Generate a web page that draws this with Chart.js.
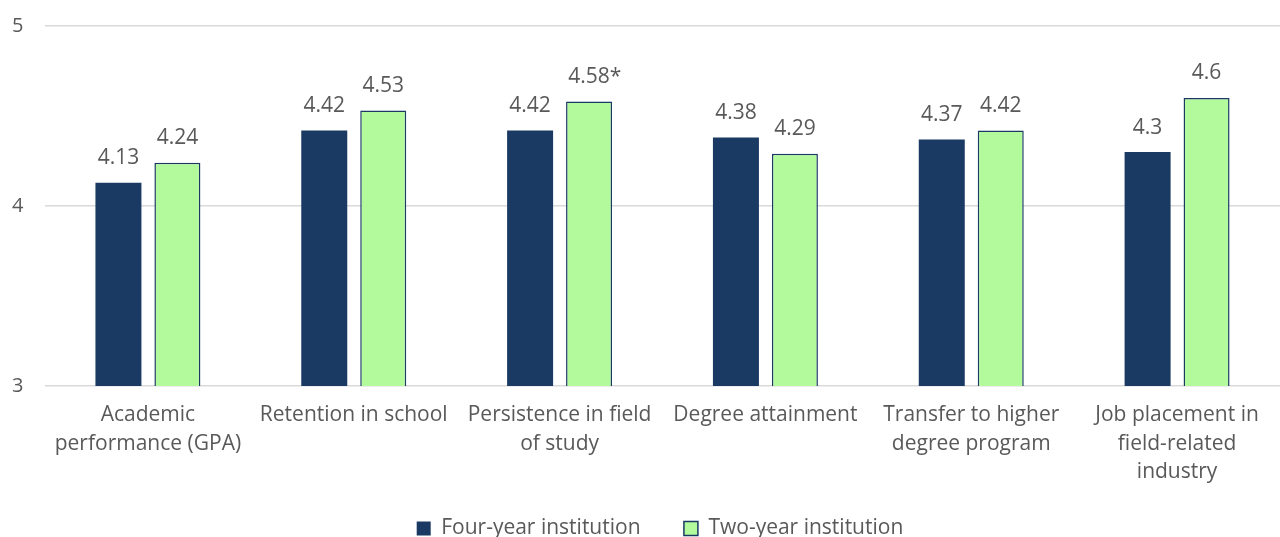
<!DOCTYPE html>
<html>
<head>
<meta charset="utf-8">
<script src="https://cdn.jsdelivr.net/npm/chart.js@4.4.0/dist/chart.umd.min.js"></script>
<style>
  html, body { margin: 0; padding: 0; background: #fff; overflow: hidden; }
  #wrap { width: 1280px; height: 549px; position: relative; }
</style>
</head>
<body>
<div id="wrap"><canvas id="myChart"></canvas></div>
<script>
const categories = [
  ['Academic', 'performance (GPA)'],
  'Retention in school',
  ['Persistence in field', 'of study'],
  'Degree attainment',
  ['Transfer to higher', 'degree program'],
  ['Job placement in', 'field-related', 'industry']
];
const fourYear = [4.13, 4.42, 4.42, 4.38, 4.37, 4.3];
const twoYear = [4.24, 4.53, 4.58, 4.29, 4.42, 4.6];
const twoYearNotes = ['', '', '*', '', '', ''];
const yTicks = [3, 4, 5];

const navy = '#1a3a63';
const green = '#b3fa9d';
const textColor = '#595959';

// draws the value above each bar
const valueLabels = {
  id: 'valueLabels',
  afterDatasetsDraw(chart) {
    const ctx = chart.ctx;
    ctx.save();
    ctx.font = '21px "Open Sans"';
    ctx.fillStyle = textColor;
    ctx.textBaseline = 'bottom';
    chart.data.datasets.forEach(function(ds, i) {
      chart.getDatasetMeta(i).data.forEach(function(bar, j) {
        let num = String(ds.data[j]);
        let note = ds.notes ? ds.notes[j] : '';
        let w = ctx.measureText(num).width;
        ctx.textAlign = 'left';
        ctx.fillText(num + note, bar.x - w / 2, bar.y - 14);
      });
    });
    ctx.restore();
  }
};

// nudge the legend a little right, like the original
const legendShift = {
  id: 'legendShift',
  afterLayout(chart) {
    if (chart.legend) chart.legend.left += 28;
  }
};

Chart.defaults.font.family = '"Open Sans"';
Chart.defaults.color = textColor;

new Chart(document.getElementById('myChart').getContext('2d'), {
  type: 'bar',
  data: {
    labels: categories,
    datasets: [{
      label: 'Four-year institution',
      data: fourYear,
      backgroundColor: navy,
      borderColor: navy,
      borderWidth: 0
    }, {
      label: 'Two-year institution',
      data: twoYear,
      notes: twoYearNotes,
      backgroundColor: green,
      borderColor: navy,
      borderWidth: 1.5
    }]
  },
  options: {
    responsive: true,
    maintainAspectRatio: false,
    animation: false,
    layout: { padding: { top: 26, right: 0, left: 12, bottom: 0 } },
    datasets: { bar: { categoryPercentage: 0.573, barPercentage: 0.78 } },
    plugins: {
      legend: {
        position: 'bottom',
        labels: {
          font: { size: 21 },
          color: textColor,
          boxWidth: 14,
          boxHeight: 14,
          padding: 27,
          generateLabels(chart) {
            return chart.data.datasets.map(function(ds, i) {
              return {
                text: i === 0 ? ds.label + '   ' : ds.label,
                fillStyle: ds.backgroundColor,
                strokeStyle: navy,
                lineWidth: i === 1 ? 1.5 : 0,
                datasetIndex: i,
                fontColor: textColor
              };
            });
          }
        }
      },
      tooltip: { enabled: false }
    },
    scales: {
      x: {
        afterFit(scale) { scale.height -= 10; },
        grid: { display: false, drawTicks: false },
        border: { display: false },
        ticks: { font: { size: 21, lineHeight: 1.38 }, color: textColor, maxRotation: 0, autoSkip: false, padding: 14 }
      },
      y: {
        min: 3,
        max: 5,
        afterFit(scale) { scale.width = 33; },
        afterBuildTicks(scale) { scale.ticks = yTicks.map(v => ({ value: v })); },
        grid: { color: '#d9d9d9', lineWidth: 1.5, drawTicks: false },
        border: { display: false },
        ticks: { font: { size: 20 }, color: textColor, padding: 2, crossAlign: 'far' }
      }
    }
  },
  plugins: [valueLabels, legendShift]
});
</script>
</body>
</html>
